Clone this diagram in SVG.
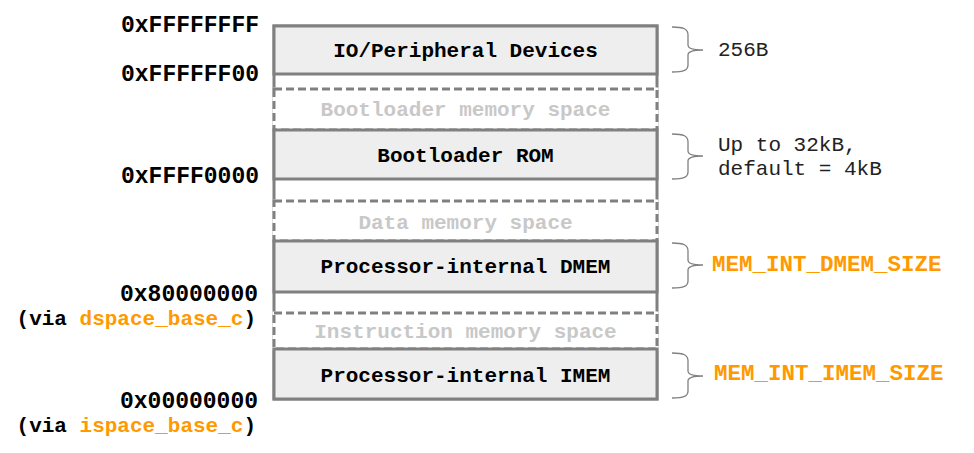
<svg xmlns="http://www.w3.org/2000/svg" width="974" height="453" viewBox="0 0 974 453">
<style>
.frame{fill:#ffffff;stroke:#808080;stroke-width:3}
.solid{fill:#eeeeee;stroke:#808080;stroke-width:3}
.under{fill:#ffffff;stroke:#ffffff;stroke-width:3}
.dash{fill:none;stroke:#808080;stroke-width:3;stroke-dasharray:8 4}
.lbl{font-family:"Liberation Mono","Courier New",monospace;font-weight:bold;font-size:21px;fill:#000;text-anchor:middle}
.ghost{font-family:"Liberation Mono","Courier New",monospace;font-weight:bold;font-size:21px;fill:#c8c8c8;text-anchor:middle}
.addr{font-family:"Liberation Mono","Courier New",monospace;font-weight:bold;font-size:23px;fill:#000;text-anchor:end}
.via{font-family:"Liberation Mono","Courier New",monospace;font-weight:bold;font-size:21px;fill:#000;text-anchor:end}
.org{fill:#ff9900}
.size{font-family:"Liberation Mono","Courier New",monospace;font-size:21px;fill:#222}
.var{font-family:"Liberation Mono","Courier New",monospace;font-weight:bold;font-size:22.5px;fill:#ff9900}
.brace{fill:none;stroke:#808080;stroke-width:1.3}
</style>
<rect width="974" height="453" fill="#ffffff"/>
<g id="frame">
<rect class="frame" x="274" y="26" width="383" height="373"/>
</g>
<g id="bootloader-space">
<rect class="under" x="274" y="89" width="383" height="41"/>
<rect class="dash" x="274" y="89" width="383" height="41"/>
<text class="ghost" x="465.5" y="116">Bootloader memory space</text>
</g>
<g id="data-space">
<rect class="under" x="274" y="201" width="383" height="40"/>
<rect class="dash" x="274" y="201" width="383" height="40"/>
<text class="ghost" x="465.5" y="229">Data memory space</text>
</g>
<g id="instr-space">
<rect class="under" x="274" y="313" width="383" height="36"/>
<rect class="dash" x="274" y="313" width="383" height="36"/>
<text class="ghost" x="465.5" y="338">Instruction memory space</text>
</g>
<g id="io">
<rect class="solid" x="274" y="26" width="383" height="48"/>
<text class="lbl" x="465.5" y="57">IO/Peripheral Devices</text>
</g>
<g id="rom">
<rect class="solid" x="274" y="130" width="383" height="49"/>
<text class="lbl" x="465.5" y="162">Bootloader ROM</text>
</g>
<g id="dmem">
<rect class="solid" x="274" y="241" width="383" height="51"/>
<text class="lbl" x="465.5" y="273">Processor-internal DMEM</text>
</g>
<g id="imem">
<rect class="solid" x="274" y="349" width="383" height="50"/>
<text class="lbl" x="465.5" y="382">Processor-internal IMEM</text>
</g>
<g id="addresses">
<text class="addr" x="259" y="32">0xFFFFFFFF</text>
<text class="addr" x="259" y="81">0xFFFFFF00</text>
<text class="addr" x="259" y="183">0xFFFF0000</text>
<text class="addr" x="258" y="301">0x80000000</text>
<text class="via" x="256" y="325">(via <tspan class="org">dspace_base_c</tspan>)</text>
<text class="addr" x="258" y="408">0x00000000</text>
<text class="via" x="256" y="432">(via <tspan class="org">ispace_base_c</tspan>)</text>
</g>
<g id="connectors">
<path class="brace" d="M672,27 C684,27 688,29 688,35 L688,45 C688,48 693,50 703,50 C693,50 688,52 688,55 L688,65 C688,70 684,72 672,72"/>
<path class="brace" d="M672,134 C684,134 688,136 688,142 L688,151 C688,154 693,156 703,156 C693,156 688,158 688,161 L688,172 C688,177 684,179 672,179"/>
<path class="brace" d="M672,243 C684,243 688,245 688,251 L688,260 C688,263 693,265 703,265 C693,265 688,267 688,270 L688,281 C688,286 684,288 672,288"/>
<path class="brace" d="M672,353 C684,353 688,355 688,361 L688,371 C688,374 693,376 703,376 C693,376 688,378 688,381 L688,391 C688,396 684,398 672,398"/>
</g>
<g id="size-labels">
<text class="size" x="718" y="56">256B</text>
<text class="size" x="718" y="151">Up to 32kB,</text>
<text class="size" x="718" y="175">default = 4kB</text>
<text class="var" x="712" y="271">MEM_INT_DMEM_SIZE</text>
<text class="var" x="714" y="380">MEM_INT_IMEM_SIZE</text>
</g>
</svg>
